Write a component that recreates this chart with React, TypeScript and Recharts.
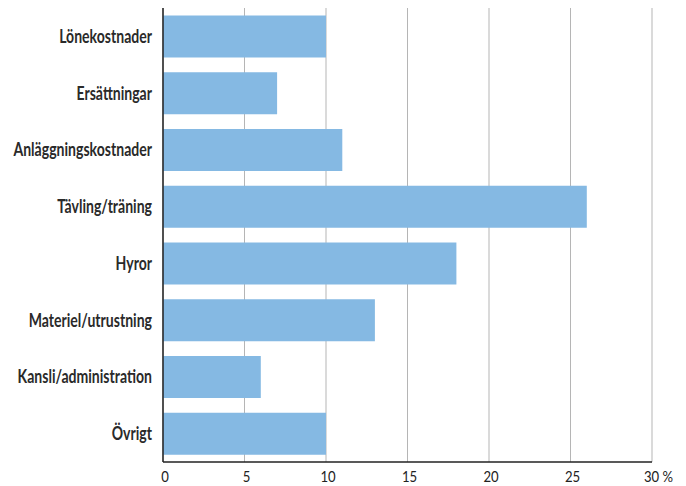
import React from "react";
import { BarChart, Bar, XAxis, YAxis, CartesianGrid } from "recharts";

const categories = [
  "Lönekostnader",
  "Ersättningar",
  "Anläggningskostnader",
  "Tävling/träning",
  "Hyror",
  "Materiel/utrustning",
  "Kansli/administration",
  "Övrigt",
];
const values = [10, 7, 11, 26, 18, 13, 6, 10];
const xTicks = [0, 5, 10, 15, 20, 25, 30];

const data = categories.map((c, i) => ({ name: c, value: values[i] }));

const FONT = "Lato, 'Open Sans', sans-serif";

const XTick = (props: any) => {
  const { x, y, payload } = props;
  const last = payload.value === 30;
  return (
    <text
      transform={`translate(${last ? x - 8 : x + 2},${y + 12}) scale(0.82,1)`}
      x={0}
      y={0}
      textAnchor={last ? "start" : "middle"}
      fontFamily={FONT}
      fontSize={16}
      fill="#222"
    >
      {last ? "30 %" : String(payload.value)}
    </text>
  );
};

const YTick = (props: any) => {
  const { x, y, payload } = props;
  return (
    <text
      transform={`translate(${x - 3},${y + 6.5}) scale(0.76,1)`}
      x={0}
      y={0}
      textAnchor="end"
      fontFamily={FONT}
      fontSize={18.5}
      fontWeight={700}
      fill="#2a2a2a"
    >
      {payload.value}
    </text>
  );
};

export default function App() {
  return (
    <div style={{ position: "absolute", left: 0, top: 0, background: "#fff" }}>
      <BarChart
        width={686}
        height={486}
        data={data}
        layout="vertical"
        margin={{ top: 8, right: 34, bottom: 0, left: 0 }}
        barCategoryGap="13%"
      >
        <CartesianGrid horizontal={false} vertical={true} stroke="#b5b5b5" />
        <XAxis
          type="number"
          domain={[0, 30]}
          ticks={xTicks}
          tickLine={false}
          axisLine={{ stroke: "#222", strokeWidth: 1.5 }}
          height={24}
          tick={<XTick />}
          interval={0}
        />
        <YAxis
          type="category"
          dataKey="name"
          width={163}
          tickLine={false}
          axisLine={{ stroke: "#222", strokeWidth: 1.5 }}
          tick={<YTick />}
          interval={0}
        />
        <Bar dataKey="value" fill="#85b9e3" isAnimationActive={false} />
      </BarChart>
    </div>
  );
}
